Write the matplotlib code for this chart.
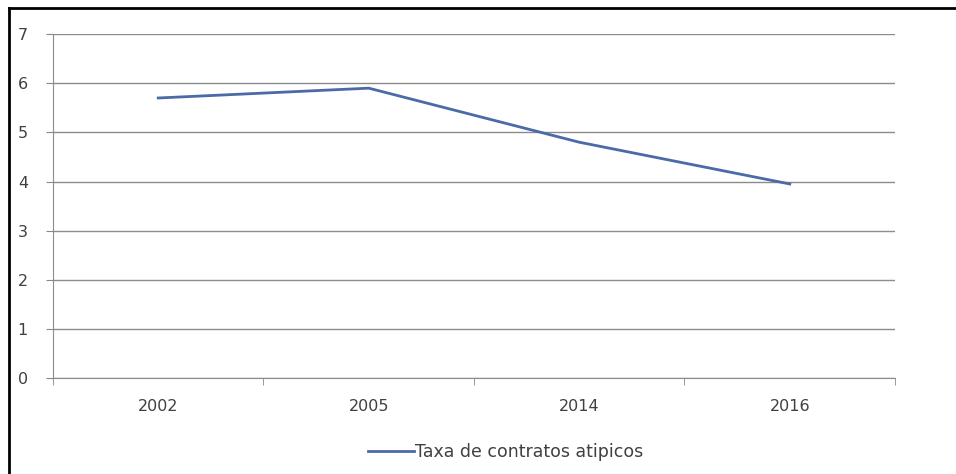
import matplotlib.pyplot as plt
from matplotlib.lines import Line2D

plt.rcParams['font.family'] = ['DejaVu Sans']

years = ['2002', '2005', '2014', '2016']
taxa = [5.7, 5.9, 4.8, 3.95]

fig = plt.figure(figsize=(9.56, 4.74), dpi=100)
ax = fig.add_axes([0.0554, 0.2025, 0.8808, 0.7255])

x = range(len(years))
ax.plot(x, taxa, color='#4a6aa8', linewidth=2, label='Taxa de contratos atipicos')

ax.set_xlim(-0.5, len(years) - 0.5)
ax.set_ylim(0, 7)
ax.set_yticks(range(0, 8))
ax.set_xticks(x)
ax.set_xticklabels(years)
ax.set_xticks([i - 0.5 for i in range(len(years) + 1)], minor=True)
ax.tick_params(axis='x', which='major', length=0, pad=15, labelsize=11.5, labelcolor='#404040')
ax.tick_params(axis='x', which='minor', length=5, color='#888888', direction='out')
ax.tick_params(axis='y', length=5, color='#888888', pad=13, labelsize=11.5, labelcolor='#404040')

ax.grid(True, axis='y', color='#8c8c8c', linewidth=1)
ax.set_axisbelow(True)
for s in ['top', 'right']:
    ax.spines[s].set_visible(False)
ax.spines['left'].set_color('#8c8c8c')
ax.spines['bottom'].set_color('#8c8c8c')

ax.legend(loc='center', bbox_to_anchor=(0.538, -0.215), frameon=False,
          fontsize=12.5, handlelength=2.6, handletextpad=0.1, labelcolor='#404040')

# black frame on the left and top edges
fig.add_artist(Line2D([0.0095, 0.0095], [0, 0.983], color='black', linewidth=2))
fig.add_artist(Line2D([0.0095, 0.999], [0.983, 0.983], color='black', linewidth=2))

fig.savefig('out.png', dpi=100)
